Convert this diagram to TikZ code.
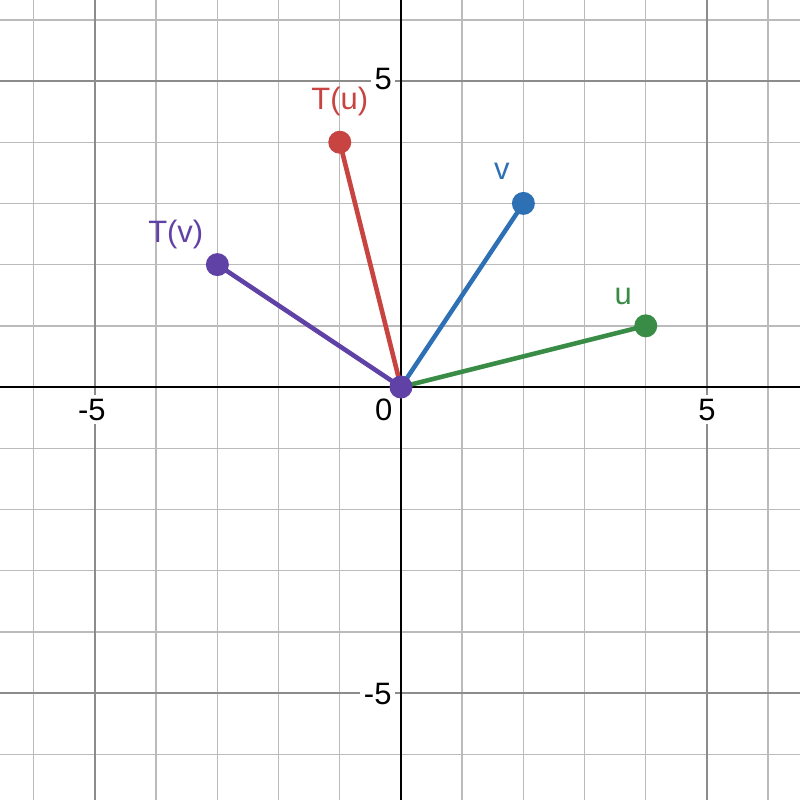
\documentclass[tikz,border=0pt]{standalone}
\usepackage{fontspec}
\setmainfont{Liberation Sans}
\definecolor{dred}{HTML}{C74440}
\definecolor{dblue}{HTML}{2D70B3}
\definecolor{dgreen}{HTML}{388C46}
\definecolor{dpurple}{HTML}{6042A6}
\definecolor{minorgrid}{HTML}{BBBBBB}
\definecolor{majorgrid}{HTML}{8C8C8C}
\tikzset{
  vec/.style={line width=1.3pt, line cap=round},
  dot/.style={circle, fill, inner sep=0pt, minimum size=0.23cm},
  lbl/.style={font=\fontsize{8.8}{10}\selectfont, inner sep=0pt},
  axlbl/.style={font=\fontsize{8.8}{10}\selectfont, inner sep=1pt, text=black, fill=white},
}
\begin{document}
\begin{tikzpicture}[x=0.612cm,y=0.612cm]
\useasboundingbox (-6.552,-6.748) rectangle (6.520,6.324);
\fill[white] (-6.552,-6.748) rectangle (6.520,6.324);
% minor grid
\foreach \i in {-6,...,6} {
  \draw[minorgrid, line width=0.4pt] (\i,-6.748) -- (\i,6.324);
}
\foreach \j in {-6,...,6} {
  \draw[minorgrid, line width=0.4pt] (-6.552,\j) -- (6.520,\j);
}
% major grid
\foreach \i in {-5,5} {
  \draw[majorgrid, line width=0.55pt] (\i,-6.748) -- (\i,6.324);
  \draw[majorgrid, line width=0.55pt] (-6.552,\i) -- (6.520,\i);
}
% axes
\draw[black, line width=0.75pt] (-6.552,0) -- (6.520,0);
\draw[black, line width=0.75pt] (0,-6.748) -- (0,6.324);
% axis labels
\node[axlbl] (xm5) at (-5.05,-0.37) {-5};
\node[axlbl] (xp5) at (5,-0.37) {5};
\node[axlbl] (x0) at (-0.28,-0.37) {0};
\node[axlbl] (yp5) at (-0.29,5.03) {5};
\node[axlbl] (ym5) at (-0.38,-5.01) {-5};
% points
\coordinate (O) at (0,0);
\coordinate (u) at (4,1);
\coordinate (v) at (2,3);
\coordinate (Tu) at (-1,4);
\coordinate (Tv) at (-3,2);
% vectors
\draw[vec, dgreen] (O) -- (u);
\draw[vec, dblue] (O) -- (v);
\draw[vec, dred] (O) -- (Tu);
\draw[vec, dpurple] (O) -- (Tv);
\node[dot, fill=dgreen] (du) at (u) {};
\node[dot, fill=dblue] (dv) at (v) {};
\node[dot, fill=dred] (dTu) at (Tu) {};
\node[dot, fill=dpurple] (dTv) at (Tv) {};
\node[dot, fill=dpurple] (dO) at (O) {};
% labels
\node[lbl, text=dred] (lTu) at (-1.0,4.67) {T(u)};
\node[lbl, text=dblue] (lv) at (1.65,3.53) {v};
\node[lbl, text=dpurple] (lTv) at (-3.68,2.50) {T(v)};
\node[lbl, text=dgreen] (lu) at (3.63,1.48) {u};
\end{tikzpicture}
\end{document}
